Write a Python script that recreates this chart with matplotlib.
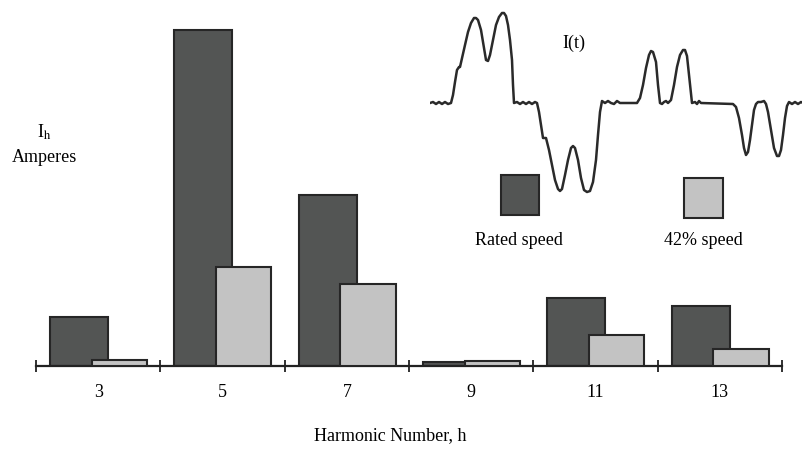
import matplotlib
matplotlib.use("Agg")
import matplotlib.pyplot as plt
from matplotlib.patches import Rectangle
import numpy as np

plt.rcParams['font.family'] = ['Liberation Serif', 'DejaVu Serif']
plt.rcParams['mathtext.fontset'] = 'stix'

# ---- data ----
harmonics = ['3', '5', '7', '9', '11', '13']
rated_speed = [49, 336, 171, 4, 68, 60]       # arbitrary amperes scale
speed_42 = [6, 99, 82, 5, 31, 17]

# current waveform I(t) (t, I) arbitrary units
wave_t = [0, 3, 6, 9, 12, 15, 18, 21,
          23, 25, 27, 29, 30, 32, 35, 38, 41, 44, 46, 48, 51, 54, 56, 58, 60, 63, 66, 69, 72, 74, 76, 78, 80, 82, 83, 84,
          87, 90, 93, 96, 99, 102, 105, 107,
          109, 111, 113, 116, 119, 122, 125, 128, 130, 132, 135, 138, 141, 143, 145, 148, 151, 154, 157, 160, 163, 166, 168, 170, 172,
          175, 178, 181, 184, 187, 190,
          207, 210, 213, 216, 219, 221, 223, 226, 228, 230, 232, 234, 236, 238, 241, 244, 247, 250, 253, 255, 257, 259, 261, 262, 265, 267, 269, 271,
          303, 306, 309, 312, 314, 316, 318, 320, 322, 324, 326, 328, 331, 334, 336, 338, 341, 344, 347, 349, 351, 353, 355, 357, 359, 362, 365, 368, 371, 373]
wave_i = [0, 1, -1, 1, -1, 1, -1, 0,
          8, 21, 33, 36, 36, 45, 58, 71, 80, 85, 85, 83, 73, 55, 43, 42, 48, 63, 78, 86, 90, 90, 87, 78, 63, 43, 18, 0,
          1, -1, 1, -1, 1, -1, 1, 0,
          -9, -22, -35, -35, -47, -62, -77, -86, -88, -86, -72, -57, -45, -43, -45, -57, -75, -87, -89, -88, -79, -57, -32, -9, 2,
          0, 2, 0, -1, 2, 0,
          0, 5, 18, 35, 48, 52, 51, 41, 18, 0, -1, 1, 2, 0, 3, 18, 36, 48, 53, 53, 47, 28, 8, 0, 1, -1, 2, 0,
          -1, -4, -15, -32, -45, -52, -49, -37, -22, -7, -1, 1, 1, 2, -1, -9, -27, -45, -53, -53, -47, -32, -15, -3, 1, -1, 1, -1, 1, 0]

fig = plt.figure(figsize=(8.03, 4.53), dpi=100)

# ---- main bar axes ----
ax = fig.add_axes([36/803, (453-366)/453, (782-36)/803, 346/453])
x = np.arange(len(harmonics))
dark = '#535554'
light = '#c3c3c3'
edge = '#262626'
ax.bar(x - 0.154, rated_speed, width=0.467, color=dark, edgecolor=edge, linewidth=1.5, zorder=2)
ax.bar(x + 0.17, speed_42, width=0.443, color=light, edgecolor=edge, linewidth=1.5, zorder=3)
ax.set_xlim(-0.5, len(harmonics) - 0.5)
ax.set_ylim(0, 346)
for s in ['top', 'right', 'left']:
    ax.spines[s].set_visible(False)
ax.spines['bottom'].set_linewidth(1.6)
ax.spines['bottom'].set_color('#222222')
ax.set_yticks([])
ax.set_xticks(np.arange(len(harmonics) + 1) - 0.5)
ax.set_xticklabels([])
ax.tick_params(axis='x', which='major', direction='inout', length=8, width=1.3, color='#222222')
ax.set_xticks(x, minor=True)
ax.set_xticklabels(harmonics, minor=True, fontsize=13)
ax.tick_params(axis='x', which='minor', length=0, pad=13)
ax.patch.set_alpha(0)

fig.text(390/803, 1 - 436/453, 'Harmonic Number, h', ha='center', va='center', fontsize=13)
fig.text(44/803, 1 - 132/453, r'I$_{\mathrm{h}}$', ha='center', va='center', fontsize=13)
fig.text(44/803, 1 - 157/453, 'Amperes', ha='center', va='center', fontsize=13)

# ---- inset waveform ----
axi = fig.add_axes([430/803, (453-200)/453, 373/803, 195/453])
axi.plot(wave_t, wave_i, color='#2a2a2a', linewidth=1.8, solid_joinstyle='round')
axi.set_xlim(0, 373)
axi.set_ylim(-97, 98)
axi.axis('off')
axi.patch.set_alpha(0)
fig.text(574/803, 1 - 43/453, 'I(t)', ha='center', va='center', fontsize=13)

# ---- legend ----
fig.patches.append(Rectangle((501/803, 1 - 215/453), 38/803, 40/453, transform=fig.transFigure,
                             facecolor=dark, edgecolor=edge, linewidth=1.5))
fig.patches.append(Rectangle((684/803, 1 - 218/453), 39/803, 40/453, transform=fig.transFigure,
                             facecolor=light, edgecolor=edge, linewidth=1.5))
fig.text(519/803, 1 - 240/453, 'Rated speed', ha='center', va='center', fontsize=13)
fig.text(703/803, 1 - 240/453, '42% speed', ha='center', va='center', fontsize=13)

fig.savefig('out.png', dpi=100)
